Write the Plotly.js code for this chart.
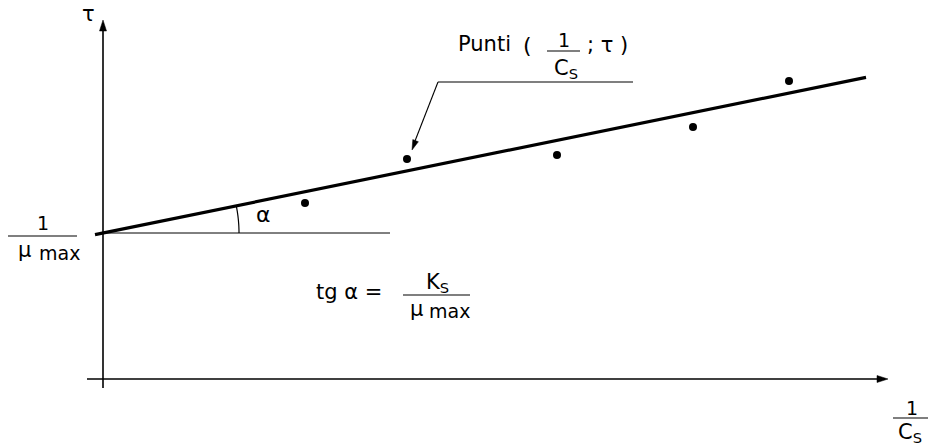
<!DOCTYPE html>
<html>
<head>
<meta charset="utf-8">
<script src="https://cdn.plot.ly/plotly-3.0.1.min.js"></script>
<style>
  html, body { margin: 0; padding: 0; background: #fff; }
  #chart { width: 929px; height: 445px; }
</style>
</head>
<body>
<div id="chart"></div>
<script>
// Measured points (1/Cs ; tau)
const invCs = [2.02, 3.04, 4.54, 5.90, 6.86];
const tau   = [1.76, 2.20, 2.24, 2.52, 2.98];

// Fitted straight line: tau = 1/mu_max + (Ks/mu_max) * (1/Cs)
const invMuMax = 1.46;      // intercept on the tau axis
const ksOverMuMax = 0.204;  // slope = tg(alpha)
const fitX = [-0.08, 7.63];
const fitY = fitX.map(x => invMuMax + ksOverMuMax * x);

const FONT = 'DejaVu Sans';
const black = '#000';

// Small arc marking the angle alpha between the fitted line and the horizontal
const alpha = Math.atan(ksOverMuMax);
const r = 1.36;
let arcPath = '';
for (let i = 0; i <= 24; i++) {
  const a = alpha * i / 24;
  const px = r * Math.cos(a), py = invMuMax + r * Math.sin(a);
  arcPath += (i === 0 ? 'M' : ' L') + px.toFixed(4) + ',' + py.toFixed(4);
}

function txt(x, y, text, size, extra) {
  return Object.assign({
    x: x, y: y, xref: 'x', yref: 'y', text: text, showarrow: false,
    xanchor: 'center', yanchor: 'middle',
    font: { family: FONT, size: size, color: black }
  }, extra || {});
}
function seg(x0, y0, x1, y1, w) {
  return { type: 'line', xref: 'x', yref: 'y', x0: x0, x1: x1, y0: y0, y1: y1,
           line: { color: black, width: w } };
}
function hline(x0, x1, y, w) { return seg(x0, y, x1, y, w); }
// Filled triangular arrow head pointing at (tx, ty), coming from (fx, fy)
function head(tx, ty, fx, fy, len, half) {
  const dx = tx - fx, dy = ty - fy, n = Math.hypot(dx, dy);
  const ux = dx / n, uy = dy / n;
  const bx = tx - ux * len, by = ty - uy * len;
  const p1 = [bx - uy * half, by + ux * half], p2 = [bx + uy * half, by - ux * half];
  return { type: 'path', xref: 'x', yref: 'y', fillcolor: black,
           line: { color: black, width: 0.5 },
           path: 'M' + tx + ',' + ty + ' L' + p1[0] + ',' + p1[1] + ' L' + p2[0] + ',' + p2[1] + ' Z' };
}

const traces = [
  {
    x: fitX, y: fitY, type: 'scatter', mode: 'lines',
    line: { color: black, width: 3.2 }, hoverinfo: 'skip'
  },
  {
    x: invCs, y: tau, type: 'scatter', mode: 'markers',
    marker: { color: black, size: 8 }, hoverinfo: 'skip'
  }
];

const shapes = [
  // axes
  seg(0, -0.09, 0, 3.55, 1.6),
  head(0, 3.59, 0, -0.09, 0.11, 0.035),
  seg(-0.16, 0, 7.80, 0, 1.6),
  head(7.85, 0, -0.16, 0, 0.11, 0.035),
  // horizontal reference through the intercept
  hline(-0.03, 2.87, invMuMax, 1),
  // angle arc
  { type: 'path', xref: 'x', yref: 'y', path: arcPath, line: { color: black, width: 1.2 } },
  // leader line of the "Punti" label and its pointer
  hline(3.35, 5.30, 2.97, 1.2),
  seg(3.35, 2.97, 3.12, 2.38, 1.1),
  head(3.09, 2.29, 3.35, 2.97, 0.1, 0.03),
  // fraction bars
  hline(-0.95, -0.26, 1.43, 1.2),
  hline(4.44, 4.77, 3.28, 1.2),
  hline(3.00, 3.67, 0.84, 1.2),
  hline(7.90, 8.25, -0.39, 1.2)
];

const annotations = [
  // tau axis label
  txt(-0.15, 3.65, 'τ', 21),
  // intercept 1/mu_max
  txt(-0.60, 1.56, '1', 19),
  txt(-0.79, 1.29, 'μ', 21),
  txt(-0.44, 1.26, 'max', 19),
  // alpha
  txt(1.60, 1.65, 'α', 22),
  // "Punti ( 1/Cs ; tau )"
  txt(3.81, 3.35, 'Punti', 21),
  txt(4.24, 3.34, '(', 22),
  txt(4.61, 3.39, '1', 19),
  txt(4.63, 3.10, 'C<sub>S</sub>', 21),
  txt(5.04, 3.34, '; τ )', 21),
  // tg alpha = Ks / mu_max
  txt(2.46, 0.87, 'tg α =', 21),
  txt(3.34, 0.96, 'K<sub>S</sub>', 21),
  txt(3.13, 0.70, 'μ', 21),
  txt(3.46, 0.68, 'max', 19),
  // 1/Cs axis label
  txt(8.09, -0.29, '1', 19),
  txt(8.07, -0.54, 'C<sub>S</sub>', 21)
];

const layout = {
  width: 929, height: 445,
  margin: { l: 0, r: 0, t: 0, b: 0, pad: 0 },
  paper_bgcolor: '#fff', plot_bgcolor: '#fff',
  showlegend: false,
  xaxis: { range: [-1.03, 8.26], visible: false, fixedrange: true },
  yaxis: { range: [-0.66, 3.79], visible: false, fixedrange: true },
  shapes: shapes,
  annotations: annotations
};

Plotly.newPlot('chart', traces, layout, { staticPlot: true, displayModeBar: false });
</script>
</body>
</html>
